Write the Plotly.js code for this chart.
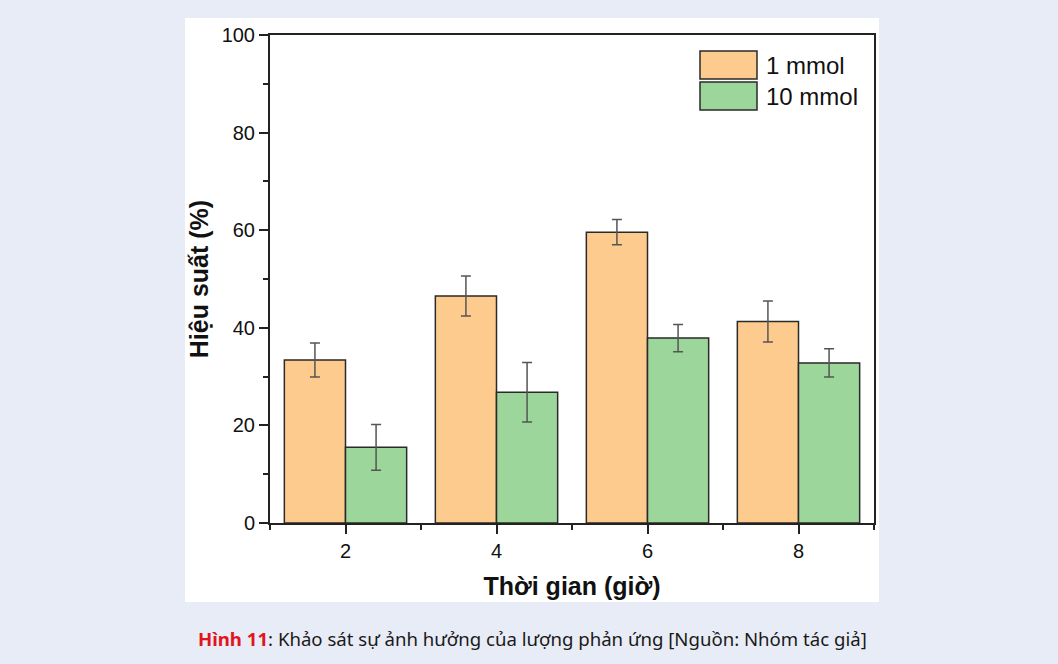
<!DOCTYPE html>
<html>
<head>
<meta charset="utf-8">
<script src="https://cdn.plot.ly/plotly-3.0.1.min.js"></script>
<style>
  html, body { margin: 0; padding: 0; background: #e8ecf6; }
  #chart { width: 1058px; height: 664px; }
</style>
</head>
<body>
<div id="chart"></div>
<script>
// ---- data ----
const times = [2, 4, 6, 8];
const seriesNames = ["1 mmol", "10 mmol"];
const yield1 = [33.4, 46.5, 59.6, 41.3];
const err1 = [3.5, 4.1, 2.6, 4.2];
const yield10 = [15.5, 26.8, 37.9, 32.8];
const err10 = [4.7, 6.1, 2.8, 2.9];
const xTitle = "Thời gian (giờ)";
const yTitle = "Hiệu suất (%)";
const captionLabel = "Hình 11";
const captionText = ": Khảo sát sự ảnh hưởng của lượng phản ứng [Nguồn: Nhóm tác giả]";

// ---- style ----
const colors = ["#fecb8f", "#9dd69b"];
const edge = "#2a2a2a";
const font = "Arial, 'Liberation Sans', sans-serif";

function barTrace(y, e, i) {
  return {
    type: "bar", x: times, y: y, name: seriesNames[i], showlegend: false,
    marker: { color: colors[i], line: { color: edge, width: 1.5 } },
    error_y: { type: "data", array: e, visible: true, color: "#555555", thickness: 1.5, width: 5 }
  };
}

const data = [barTrace(yield1, err1, 0), barTrace(yield10, err10, 1)];

// pixel -> paper helpers (plot area: x 270..874, y 35..523)
const L = 270, R = 874, T = 35, B = 523;
const px = v => (v - L) / (R - L);
const py = v => (B - v) / (B - T);

const legendRows = [{ y0: 51, y1: 79, ty: 65 }, { y0: 82, y1: 110, ty: 96 }];
const shapes = [
  { type: "rect", xref: "paper", yref: "paper", layer: "below",
    x0: px(185), x1: px(879), y0: py(602), y1: py(18),
    fillcolor: "#ffffff", line: { width: 0 } }
];
const annotations = [];
legendRows.forEach((r, i) => {
  shapes.push({ type: "rect", xref: "paper", yref: "paper",
    x0: px(700), x1: px(757), y0: py(r.y1), y1: py(r.y0),
    fillcolor: colors[i], line: { color: edge, width: 1.5 } });
  annotations.push({ xref: "paper", yref: "paper", x: px(764), y: py(r.ty),
    xanchor: "left", yanchor: "middle", showarrow: false, text: seriesNames[i],
    font: { family: font, size: 24, color: "#111" } });
});
annotations.push({ xref: "paper", yref: "paper", x: px(532), y: py(638),
  xanchor: "center", yanchor: "middle", showarrow: false,
  text: "<b><span style='color:#e3141b'>" + captionLabel + "</span></b>" + captionText,
  font: { family: "'Noto Sans', sans-serif", size: 18.6, color: "#1a1a1a" } });

const layout = {
  width: 1058, height: 664,
  margin: { l: L, r: 1058 - R, t: T, b: 664 - B, pad: 0 },
  paper_bgcolor: "#e8ecf6", plot_bgcolor: "#ffffff",
  barmode: "group", bargap: 0.19, bargroupgap: 0,
  font: { family: font, color: "#111" },
  xaxis: {
    range: [1, 9], tickvals: times, ticktext: times.map(String),
    ticks: "outside", ticklen: 9, tickwidth: 2, tickcolor: "#222",
    minor: { tickvals: [1, 3, 5, 7, 9], ticks: "outside", ticklen: 5, tickwidth: 2, tickcolor: "#222" },
    showline: true, linewidth: 2, linecolor: "#222", mirror: true,
    showgrid: false, zeroline: false,
    tickfont: { family: font, size: 20, color: "#111" },
    title: { text: "<b>" + xTitle + "</b>", font: { family: font, size: 25, color: "#111" }, standoff: 16 }
  },
  yaxis: {
    range: [0, 100], dtick: 20, tick0: 0,
    ticks: "outside", ticklen: 9, tickwidth: 2, tickcolor: "#222",
    minor: { dtick: 10, ticks: "outside", ticklen: 5, tickwidth: 2, tickcolor: "#222" },
    showline: true, linewidth: 2, linecolor: "#222", mirror: true,
    showgrid: false, zeroline: false,
    tickfont: { family: font, size: 20, color: "#111" },
    title: { text: "<b>" + yTitle + "</b>", font: { family: font, size: 25, color: "#111" }, standoff: 6 }
  },
  shapes: shapes,
  annotations: annotations
};

Plotly.newPlot("chart", data, layout, { displayModeBar: false, staticPlot: true });
</script>
</body>
</html>
